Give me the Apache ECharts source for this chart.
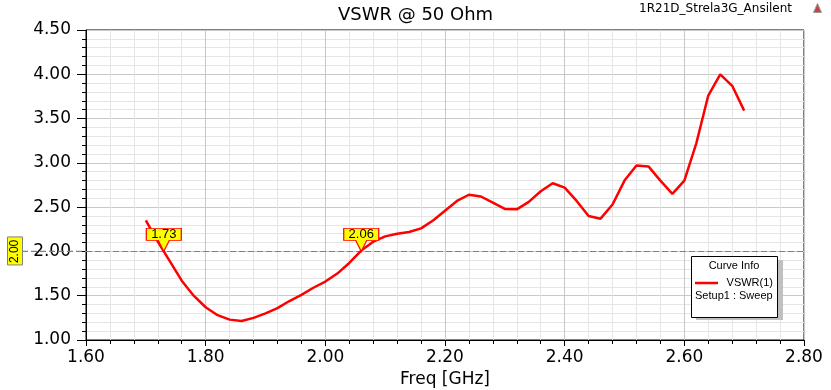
<!DOCTYPE html>
<html>
<head>
<meta charset="utf-8">
<script src="https://cdn.jsdelivr.net/npm/echarts@6/dist/echarts.min.js"></script>
<style>
html,body{margin:0;padding:0;background:#ffffff;}
#chart{width:831px;height:390px;}
</style>
</head>
<body>
<div id="chart"></div>
<script>
// ---- data ----
var freqs = [1.70,1.72,1.74,1.76,1.78,1.80,1.82,1.84,1.86,1.88,
             1.90,1.92,1.94,1.96,1.98,2.00,2.02,2.04,2.06,2.08,
             2.10,2.12,2.14,2.16,2.18,2.20,2.22,2.24,2.26,2.28,
             2.30,2.32,2.34,2.36,2.38,2.40,2.42,2.44,2.46,2.48,
             2.50,2.52,2.54,2.56,2.58,2.60,2.62,2.64,2.66,2.68,2.70];
var vswr  = [2.35,2.11,1.89,1.67,1.50,1.37,1.28,1.23,1.215,1.25,
             1.30,1.36,1.44,1.51,1.59,1.66,1.75,1.87,2.01,2.11,
             2.17,2.20,2.22,2.26,2.35,2.46,2.57,2.64,2.62,2.55,
             2.48,2.475,2.56,2.68,2.77,2.72,2.57,2.40,2.37,2.53,
             2.80,2.97,2.96,2.80,2.65,2.80,3.22,3.76,4.00,3.87,3.59];
var markerFreqs = [1.73, 2.06];
var markerLabels = ['1.73', '2.06'];
var refLevel = 2.00;
var xTicks = {min: 1.6, max: 2.8, step: 0.2};
var yTicks = {min: 1.0, max: 4.5, step: 0.5};
var titleText = 'VSWR @ 50 Ohm';
var projectText = '1R21D_Strela3G_Ansilent';
var xName = 'Freq [GHz]';
var seriesName = 'VSWR(1)';
var setupText = 'Setup1 : Sweep';

var FONT = 'DejaVu Sans';
var FONT2 = 'Liberation Sans';

var chart = echarts.init(document.getElementById('chart'), null, {renderer: 'canvas'});

var seriesData = freqs.map(function (f, i) { return [f, vswr[i]]; });
var calloutPath = 'path://M0,0 L35,0 L35,12 L23,12 L17.5,23 L12,12 L0,12 Z';

var option = {
  backgroundColor: '#ffffff',
  animation: false,
  title: {
    text: titleText,
    left: 'center',
    top: 1,
    textStyle: {fontFamily: FONT, fontSize: 18, fontWeight: 'normal', color: '#000'}
  },
  grid: {
    left: 86, right: 27, top: 30, bottom: 50,
    containLabel: false, outerBoundsMode: 'none',
    show: true, borderColor: '#000', borderWidth: 1, backgroundColor: 'transparent'
  },
  xAxis: {
    type: 'value',
    min: xTicks.min, max: xTicks.max, interval: xTicks.step,
    name: xName, nameLocation: 'middle', nameGap: 27,
    nameTextStyle: {fontFamily: FONT, fontSize: 17, color: '#000'},
    axisLine: {show: true, onZero: false, lineStyle: {color: '#000', width: 1}},
    axisTick: {show: true, inside: false, length: 6, lineStyle: {color: '#000'}},
    minorTick: {show: true, splitNumber: 5, length: 4, lineStyle: {color: '#000'}},
    axisLabel: {fontFamily: FONT, fontSize: 17, color: '#000', margin: 9,
      formatter: function (v) { return v.toFixed(2); }},
    splitLine: {show: true, lineStyle: {color: '#c8c8c8', width: 1}},
    minorSplitLine: {show: true, lineStyle: {color: '#e5e5e5', width: 1}}
  },
  yAxis: {
    type: 'value',
    min: yTicks.min, max: yTicks.max, interval: yTicks.step,
    axisLine: {show: true, onZero: false, lineStyle: {color: '#000', width: 1}},
    axisTick: {show: true, inside: false, length: 9, lineStyle: {color: '#000'}},
    minorTick: {show: true, splitNumber: 5, length: 4, lineStyle: {color: '#000'}},
    axisLabel: {fontFamily: FONT, fontSize: 17, color: '#000', margin: 15,
      formatter: function (v) { return v.toFixed(2); }},
    splitLine: {show: true, lineStyle: {color: '#c8c8c8', width: 1}},
    minorSplitLine: {show: true, lineStyle: {color: '#e5e5e5', width: 1}}
  },
  series: [{
    name: seriesName,
    type: 'line',
    data: seriesData,
    showSymbol: false,
    symbol: 'none',
    smooth: false,
    lineStyle: {color: '#ff0000', width: 2.5},
    itemStyle: {color: '#ff0000'},
    z: 3,
    markLine: {
      silent: true,
      symbol: ['none', 'none'],
      label: {show: false},
      lineStyle: {color: '#808080', type: [6, 3], width: 1.2},
      data: [{yAxis: refLevel}],
      z: 2
    },
    markPoint: {
      silent: true,
      symbol: calloutPath,
      symbolSize: [35, 23],
      symbolOffset: [0, -11.5],
      itemStyle: {color: '#ffff00', borderColor: '#ff0000', borderWidth: 1},
      label: {show: true, position: 'inside', offset: [0, -5.5],
        fontFamily: FONT2, fontSize: 13, color: '#000'},
      data: markerFreqs.map(function (f, i) {
        return {coord: [f, refLevel], value: markerLabels[i],
          label: {formatter: markerLabels[i]}};
      }),
      z: 5
    }
  }]
};
chart.setOption(option);

// decorations positioned from the axes
var yRef = chart.convertToPixel({gridIndex: 0}, [xTicks.min, refLevel])[1];
var xLeft = chart.convertToPixel({gridIndex: 0}, [xTicks.min, refLevel])[0];

chart.setOption({
  graphic: [
    // project name top-right
    {type: 'text', right: 39, top: 3, z: 10,
      style: {text: projectText, font: '12px "' + FONT + '"', fill: '#000'}},
    // small logo
    {type: 'polygon', left: 813, top: 3, z: 10,
      shape: {points: [[4, 0], [8, 9], [0, 9]]},
      style: {fill: '#d04040', stroke: '#999', lineWidth: 1}},
    // dashed extension left of axis to the level label
    {type: 'line', z: 1, silent: true,
      shape: {x1: 22, y1: yRef, x2: xLeft, y2: yRef},
      style: {stroke: '#808080', lineWidth: 1.2, lineDash: [6, 3]}},
    // level label
    {type: 'rect', z: 10, shape: {x: 7.5, y: yRef - 14.5, width: 15, height: 28},
      style: {fill: '#ffff00', stroke: '#808080', lineWidth: 1}},
    {type: 'text', z: 11, x: 15, y: yRef, rotation: Math.PI / 2,
      style: {text: refLevel.toFixed(2), font: '12px "' + FONT2 + '"', fill: '#000',
        align: 'center', verticalAlign: 'middle'}},
    // curve info box
    {type: 'rect', z: 10, shape: {x: 696, y: 260, width: 87, height: 60},
      style: {fill: '#c0c0c0'}},
    {type: 'rect', z: 11, shape: {x: 691.5, y: 256.5, width: 86, height: 61},
      style: {fill: '#ffffff', stroke: '#000', lineWidth: 1}},
    {type: 'text', z: 12, x: 734, y: 266,
      style: {text: 'Curve Info', font: '11px "' + FONT2 + '"', fill: '#000',
        align: 'center', verticalAlign: 'middle'}},
    {type: 'line', z: 12, shape: {x1: 695, y1: 283, x2: 718, y2: 283},
      style: {stroke: '#ff0000', lineWidth: 2.5}},
    {type: 'text', z: 12, x: 773, y: 283,
      style: {text: seriesName, font: '11px "' + FONT2 + '"', fill: '#000',
        align: 'right', verticalAlign: 'middle'}},
    {type: 'text', z: 12, x: 695, y: 296,
      style: {text: setupText, font: '11px "' + FONT2 + '"', fill: '#000',
        align: 'left', verticalAlign: 'middle'}}
  ]
});
</script>
</body>
</html>
